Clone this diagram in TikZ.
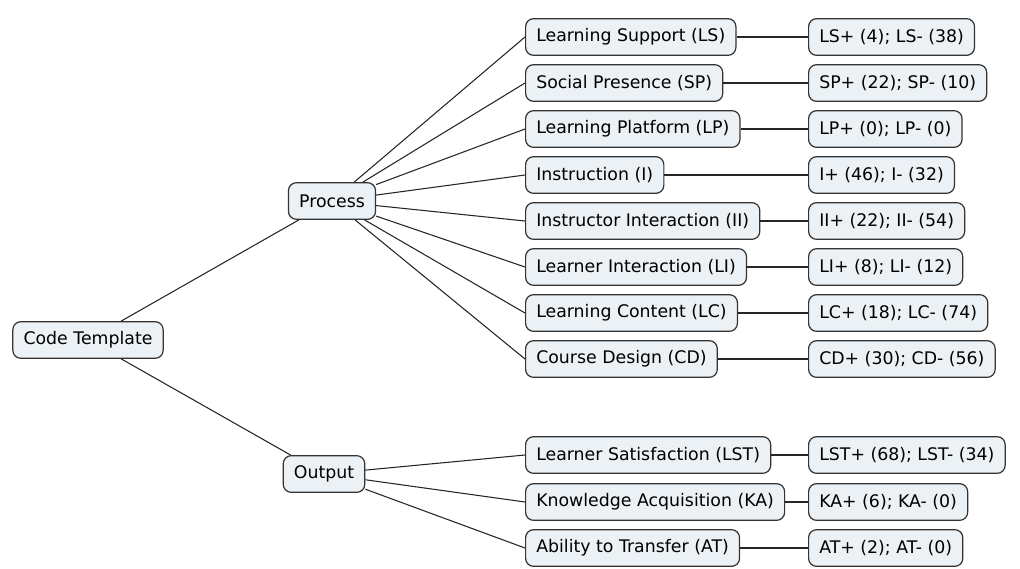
\documentclass[tikz,border=0pt]{standalone}
\usepackage{fontspec}
\setmainfont{DejaVu Sans}
\usetikzlibrary{positioning}
\definecolor{boxfill}{HTML}{EBF1F5}
\definecolor{boxline}{HTML}{333333}

\begin{document}
\begin{tikzpicture}[
  x=0.75pt, y=-0.75pt,
  font=\fontsize{13}{15}\selectfont,
  box/.style={rectangle, draw=boxline, fill=boxfill, rounded corners=6pt, line width=0.9pt, minimum height=27.5pt, inner xsep=8pt, align=center},
  cat/.style={box, anchor=west},
  line/.style={draw=black!85, line width=0.8pt}
]
\useasboundingbox (0,0) rectangle (1020,568);

\node[box] (tmpl) at (88,340) {Code Template};
\node[box] (proc) at (332,201) {Process};
\node[box] (outp) at (324,474) {Output};

\node[cat] (ls) at (525,37) {Learning Support (LS)};
\node[cat] (sp) at (525,83) {Social Presence (SP)};
\node[cat] (lp) at (525,129) {Learning Platform (LP)};
\node[cat] (in) at (525,175) {Instruction (I)};
\node[cat] (ii) at (525,221) {Instructor Interaction (II)};
\node[cat] (li) at (525,267) {Learner Interaction (LI)};
\node[cat] (lc) at (525,313) {Learning Content (LC)};
\node[cat] (cd) at (525,359) {Course Design (CD)};
\node[cat] (lst) at (525,455) {Learner Satisfaction (LST)};
\node[cat] (ka) at (525,502) {Knowledge Acquisition (KA)};
\node[cat] (at) at (525,548) {Ability to Transfer (AT)};

\node[cat] (lsn) at (808,37) {LS+ (4); LS- (38)};
\node[cat] (spn) at (808,83) {SP+ (22); SP- (10)};
\node[cat] (lpn) at (808,129) {LP+ (0); LP- (0)};
\node[cat] (inn) at (808,175) {I+ (46); I- (32)};
\node[cat] (iin) at (808,221) {II+ (22); II- (54)};
\node[cat] (lin) at (808,267) {LI+ (8); LI- (12)};
\node[cat] (lcn) at (808,313) {LC+ (18); LC- (74)};
\node[cat] (cdn) at (808,359) {CD+ (30); CD- (56)};
\node[cat] (lstn) at (808,455) {LST+ (68); LST- (34)};
\node[cat] (kan) at (808,502) {KA+ (6); KA- (0)};
\node[cat] (atn) at (808,548) {AT+ (2); AT- (0)};

\path[line] (tmpl) -- (proc);
\path[line] (tmpl) -- (outp);

\path[line] (proc) -- (ls.west);
\path[line] (proc) -- (sp.west);
\path[line] (proc) -- (lp.west);
\path[line] (proc) -- (in.west);
\path[line] (proc) -- (ii.west);
\path[line] (proc) -- (li.west);
\path[line] (proc) -- (lc.west);
\path[line] (proc) -- (cd.west);
\path[line] (outp) -- (lst.west);
\path[line] (outp) -- (ka.west);
\path[line] (outp) -- (at.west);

\path[line] (ls) -- (lsn);
\path[line] (sp) -- (spn);
\path[line] (lp) -- (lpn);
\path[line] (in) -- (inn);
\path[line] (ii) -- (iin);
\path[line] (li) -- (lin);
\path[line] (lc) -- (lcn);
\path[line] (cd) -- (cdn);
\path[line] (lst) -- (lstn);
\path[line] (ka) -- (kan);
\path[line] (at) -- (atn);

\end{tikzpicture}
\end{document}
